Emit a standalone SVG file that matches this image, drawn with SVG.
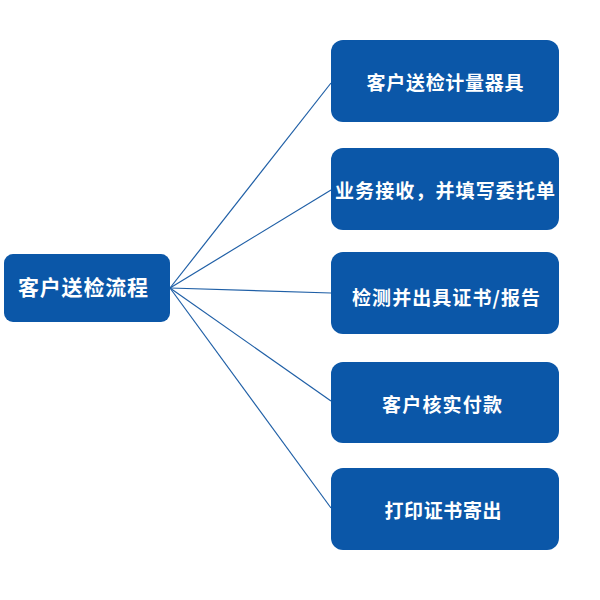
<svg xmlns="http://www.w3.org/2000/svg" width="600" height="600" viewBox="0 0 600 600">
<style>
.box{fill:#0B57A8;}
.lbl{fill:#ffffff;font-family:"Noto Sans CJK SC","Noto Sans",sans-serif;font-weight:bold;font-size:19px;text-anchor:middle;dominant-baseline:central;}
.big{font-size:21px;}
.conn{stroke:#1F5FA6;stroke-width:1.2;fill:none;}
</style>
<rect width="600" height="600" fill="#ffffff"/>
<g id="connectors">
<line class="conn" x1="170" y1="288" x2="331" y2="83"/>
<line class="conn" x1="170" y1="288" x2="331" y2="190"/>
<line class="conn" x1="170" y1="288" x2="331" y2="293"/>
<line class="conn" x1="170" y1="288" x2="331" y2="401"/>
<line class="conn" x1="170" y1="288" x2="331" y2="508"/>
</g>
<g id="root">
<rect class="box" x="4" y="254" width="166" height="68" rx="9"/>
<text class="lbl big" x="83" y="286" textLength="130" lengthAdjust="spacing">客户送检流程</text>
</g>
<g id="n1">
<rect class="box" x="331" y="40" width="228" height="82" rx="12"/>
<text class="lbl" x="445" y="81" textLength="157" lengthAdjust="spacing">客户送检计量器具</text>
</g>
<g id="n2">
<rect class="box" x="331" y="148" width="228" height="82" rx="12"/>
<text class="lbl" x="445" y="189" textLength="220" lengthAdjust="spacing">业务接收，并填写委托单</text>
</g>
<g id="n3">
<rect class="box" x="331" y="252" width="228" height="82" rx="12"/>
<text class="lbl" x="446" y="296" textLength="188" lengthAdjust="spacing">检测并出具证书/报告</text>
</g>
<g id="n4">
<rect class="box" x="331" y="362" width="228" height="81" rx="12"/>
<text class="lbl" x="442" y="403" textLength="120" lengthAdjust="spacing">客户核实付款</text>
</g>
<g id="n5">
<rect class="box" x="331" y="468" width="228" height="82" rx="12"/>
<text class="lbl" x="443" y="509" textLength="117" lengthAdjust="spacing">打印证书寄出</text>
</g>
</svg>
